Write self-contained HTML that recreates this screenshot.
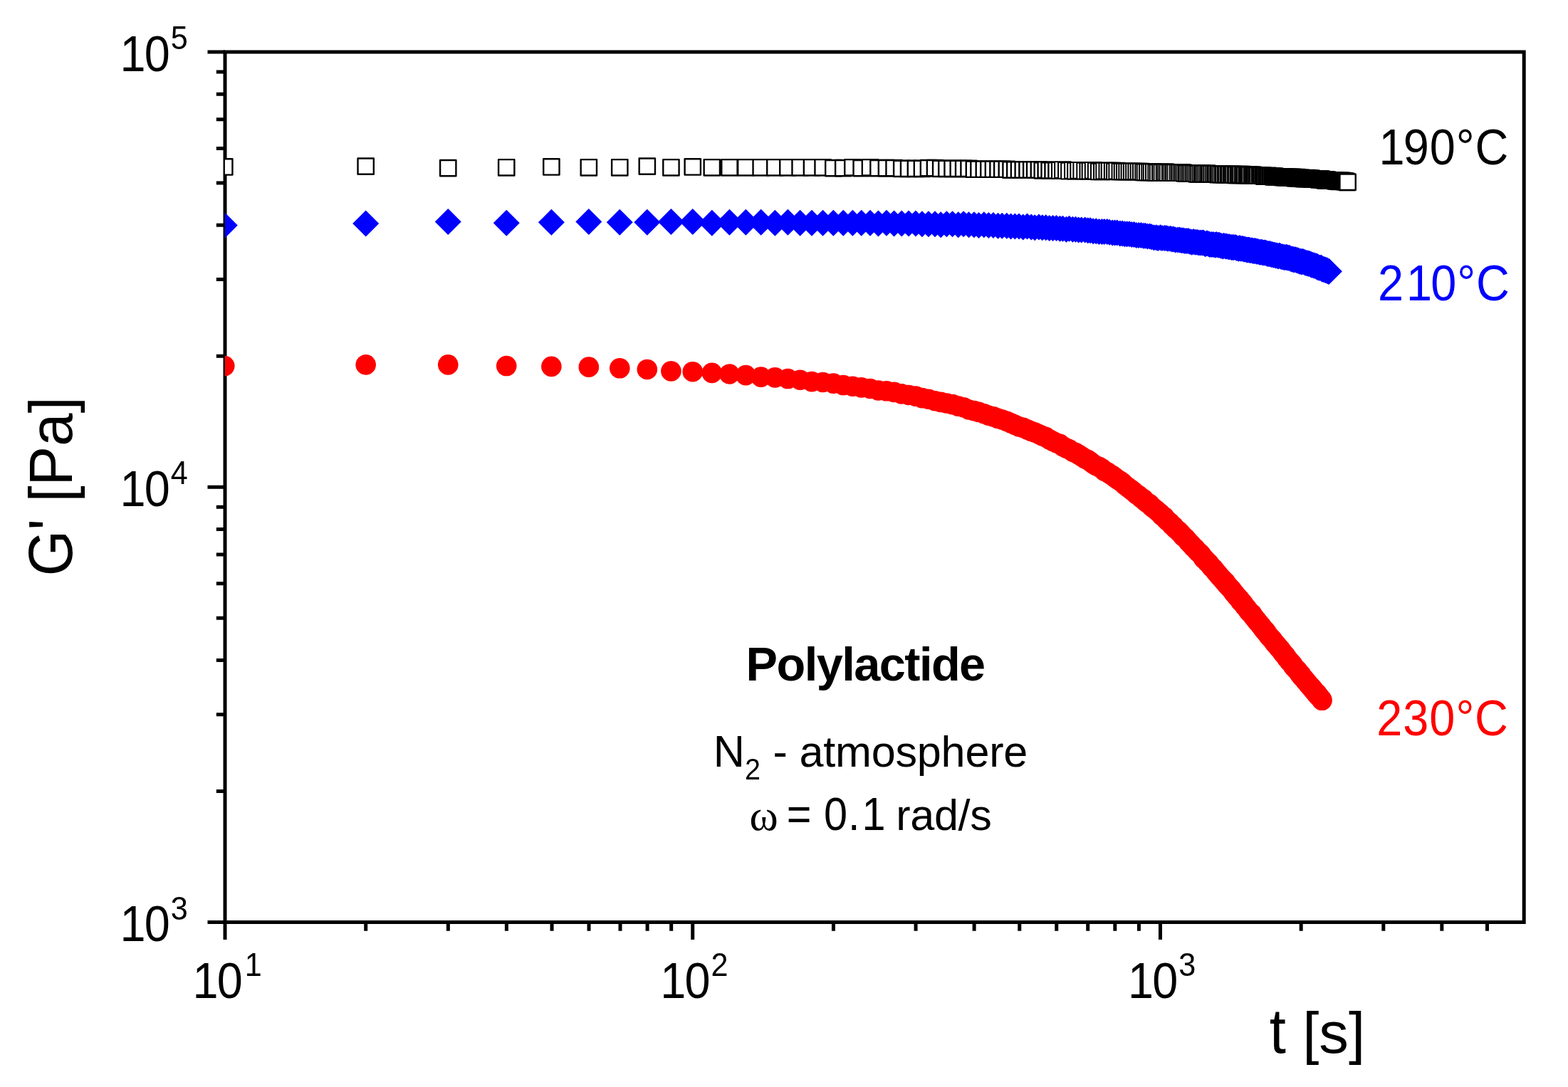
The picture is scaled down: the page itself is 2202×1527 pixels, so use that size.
<!DOCTYPE html>
<html lang="en"><head><meta charset="utf-8"><title>Polylactide G' vs t</title>
<style>html,body{margin:0;padding:0;background:#fff}body{width:2202px;height:1527px;overflow:hidden}svg{display:block}text{font-family:"Liberation Sans",Arial,Helvetica,sans-serif;fill:#000;white-space:pre}.sym{font-family:"Liberation Serif","DejaVu Serif",serif}</style></head><body>
<svg width="2202" height="1527" viewBox="0 0 2202 1527">
<rect x="0" y="0" width="2202" height="1527" fill="#fff"/>
<defs><clipPath id="plot"><rect x="315.90" y="73.00" width="1824.20" height="1222.50"/></clipPath></defs>
<g stroke="#000" stroke-width="5.00" fill="none" stroke-linecap="butt">
<rect x="316.00" y="73.00" width="1824.20" height="1222.50"/>
<path d="M291.50 1295.50H316.00M303.80 1111.50H316.00M303.80 1003.86H316.00M303.80 927.49H316.00M303.80 868.25H316.00M303.80 819.86H316.00M303.80 778.93H316.00M303.80 743.49H316.00M303.80 712.22H316.00M291.50 684.25H316.00M303.80 500.25H316.00M303.80 392.61H316.00M303.80 316.24H316.00M303.80 257.00H316.00M303.80 208.61H316.00M303.80 167.68H316.00M303.80 132.24H316.00M303.80 100.97H316.00M291.50 73.00H316.00M316.00 1295.50V1320.00M513.70 1295.50V1307.70M629.34 1295.50V1307.70M711.39 1295.50V1307.70M775.03 1295.50V1307.70M827.04 1295.50V1307.70M871.00 1295.50V1307.70M909.09 1295.50V1307.70M942.68 1295.50V1307.70M972.73 1295.50V1320.00M1170.43 1295.50V1307.70M1286.07 1295.50V1307.70M1368.12 1295.50V1307.70M1431.76 1295.50V1307.70M1483.77 1295.50V1307.70M1527.73 1295.50V1307.70M1565.82 1295.50V1307.70M1599.41 1295.50V1307.70M1629.46 1295.50V1320.00M1827.16 1295.50V1307.70M1942.80 1295.50V1307.70M2024.85 1295.50V1307.70M2088.49 1295.50V1307.70"/>
</g>
<g clip-path="url(#plot)">
<g fill="#fff" stroke="#000" stroke-linejoin="round">
<rect x="304.13" y="223.31" width="22.30" height="22.30" stroke-width="2.40"/>
<rect x="502.52" y="222.49" width="22.30" height="22.30" stroke-width="2.40"/>
<rect x="618.11" y="224.95" width="22.30" height="22.30" stroke-width="2.40"/>
<rect x="700.09" y="224.13" width="22.30" height="22.30" stroke-width="2.40"/>
<rect x="763.22" y="223.31" width="22.30" height="22.30" stroke-width="2.40"/>
<rect x="815.68" y="224.13" width="22.30" height="22.30" stroke-width="2.40"/>
<rect x="859.13" y="224.13" width="22.30" height="22.30" stroke-width="2.40"/>
<rect x="897.67" y="222.49" width="22.30" height="22.30" stroke-width="2.40"/>
<rect x="931.28" y="224.13" width="22.30" height="22.30" stroke-width="2.40"/>
<rect x="961.61" y="223.31" width="22.30" height="22.30" stroke-width="2.40"/>
<rect x="988.66" y="224.13" width="22.30" height="22.30" stroke-width="2.40"/>
<rect x="1013.26" y="224.13" width="22.30" height="22.30" stroke-width="2.40"/>
<rect x="1036.21" y="224.13" width="22.30" height="22.30" stroke-width="2.40"/>
<rect x="1057.53" y="224.13" width="22.30" height="22.30" stroke-width="2.40"/>
<rect x="1077.20" y="224.13" width="22.30" height="22.30" stroke-width="2.40"/>
<rect x="1095.24" y="224.13" width="22.30" height="22.30" stroke-width="2.40"/>
<rect x="1112.45" y="224.13" width="22.30" height="22.30" stroke-width="2.40"/>
<rect x="1128.85" y="224.13" width="22.30" height="22.30" stroke-width="2.40"/>
<rect x="1144.43" y="224.13" width="22.30" height="22.30" stroke-width="2.40"/>
<rect x="1159.18" y="224.95" width="22.30" height="22.30" stroke-width="2.40"/>
<rect x="1173.12" y="224.95" width="22.30" height="22.30" stroke-width="2.40"/>
<rect x="1186.24" y="224.13" width="22.30" height="22.30" stroke-width="2.40"/>
<rect x="1198.53" y="224.95" width="22.30" height="22.30" stroke-width="2.40"/>
<rect x="1210.83" y="224.13" width="22.30" height="22.30" stroke-width="2.40"/>
<rect x="1222.31" y="224.95" width="22.30" height="22.30" stroke-width="2.40"/>
<rect x="1233.79" y="224.95" width="22.30" height="22.30" stroke-width="2.40"/>
<rect x="1244.44" y="224.95" width="22.30" height="22.30" stroke-width="2.40"/>
<rect x="1255.10" y="225.77" width="22.30" height="22.30" stroke-width="2.40"/>
<rect x="1264.94" y="225.77" width="22.30" height="22.30" stroke-width="2.40"/>
<rect x="1274.78" y="225.77" width="22.30" height="22.30" stroke-width="2.40"/>
<rect x="1283.79" y="225.77" width="22.30" height="22.30" stroke-width="2.40"/>
<rect x="1292.81" y="224.95" width="22.30" height="22.30" stroke-width="2.40"/>
<rect x="1301.83" y="224.95" width="22.30" height="22.30" stroke-width="2.40"/>
<rect x="1310.03" y="225.77" width="22.30" height="22.30" stroke-width="2.40"/>
<rect x="1318.23" y="225.77" width="22.30" height="22.30" stroke-width="2.40"/>
<rect x="1326.42" y="225.77" width="22.30" height="22.30" stroke-width="2.40"/>
<rect x="1334.62" y="225.77" width="22.30" height="22.30" stroke-width="2.40"/>
<rect x="1342.00" y="225.77" width="22.30" height="22.30" stroke-width="2.40"/>
<rect x="1349.38" y="225.77" width="22.30" height="22.30" stroke-width="2.40"/>
<rect x="1356.76" y="226.59" width="22.30" height="22.30" stroke-width="2.40"/>
<rect x="1363.32" y="226.59" width="22.30" height="22.30" stroke-width="2.40"/>
<rect x="1370.69" y="226.59" width="22.30" height="22.30" stroke-width="2.40"/>
<rect x="1377.25" y="226.59" width="22.30" height="22.30" stroke-width="2.40"/>
<rect x="1383.81" y="226.59" width="22.30" height="22.30" stroke-width="2.40"/>
<rect x="1390.37" y="226.59" width="22.30" height="22.30" stroke-width="2.40"/>
<rect x="1396.11" y="226.59" width="22.30" height="22.30" stroke-width="2.40"/>
<rect x="1402.67" y="226.59" width="22.30" height="22.30" stroke-width="2.40"/>
<rect x="1408.40" y="227.41" width="22.30" height="22.30" stroke-width="2.40"/>
<rect x="1414.14" y="227.41" width="22.30" height="22.30" stroke-width="2.40"/>
<rect x="1419.88" y="227.41" width="22.30" height="22.30" stroke-width="2.40"/>
<rect x="1425.62" y="227.41" width="22.30" height="22.30" stroke-width="2.40"/>
<rect x="1431.36" y="227.41" width="22.30" height="22.30" stroke-width="2.40"/>
<rect x="1437.10" y="227.41" width="22.30" height="22.30" stroke-width="2.40"/>
<rect x="1442.02" y="227.41" width="22.30" height="22.30" stroke-width="2.40"/>
<rect x="1447.76" y="227.41" width="22.30" height="22.30" stroke-width="2.40"/>
<rect x="1452.67" y="228.23" width="22.30" height="22.30" stroke-width="2.40"/>
<rect x="1457.59" y="227.41" width="22.30" height="22.30" stroke-width="2.40"/>
<rect x="1462.51" y="228.23" width="22.30" height="22.30" stroke-width="2.40"/>
<rect x="1467.43" y="228.23" width="22.30" height="22.30" stroke-width="2.40"/>
<rect x="1472.35" y="228.23" width="22.30" height="22.30" stroke-width="2.40"/>
<rect x="1477.07" y="228.03" width="22.70" height="22.70" stroke-width="2.00"/>
<rect x="1481.17" y="227.21" width="22.70" height="22.70" stroke-width="2.00"/>
<rect x="1486.09" y="228.03" width="22.70" height="22.70" stroke-width="2.00"/>
<rect x="1490.19" y="228.85" width="22.70" height="22.70" stroke-width="2.00"/>
<rect x="1495.10" y="228.03" width="22.70" height="22.70" stroke-width="2.00"/>
<rect x="1499.20" y="228.85" width="22.70" height="22.70" stroke-width="2.00"/>
<rect x="1503.30" y="228.03" width="22.70" height="22.70" stroke-width="2.00"/>
<rect x="1507.40" y="228.03" width="22.70" height="22.70" stroke-width="2.00"/>
<rect x="1512.32" y="228.85" width="22.70" height="22.70" stroke-width="2.00"/>
<rect x="1516.42" y="228.85" width="22.70" height="22.70" stroke-width="2.00"/>
<rect x="1519.70" y="228.85" width="22.70" height="22.70" stroke-width="2.00"/>
<rect x="1523.80" y="228.03" width="22.70" height="22.70" stroke-width="2.00"/>
<rect x="1527.90" y="228.85" width="22.70" height="22.70" stroke-width="2.00"/>
<rect x="1532.00" y="229.67" width="22.70" height="22.70" stroke-width="2.00"/>
<rect x="1536.09" y="229.67" width="22.70" height="22.70" stroke-width="2.00"/>
<rect x="1539.37" y="228.85" width="22.70" height="22.70" stroke-width="2.00"/>
<rect x="1543.47" y="228.85" width="22.70" height="22.70" stroke-width="2.00"/>
<rect x="1546.75" y="228.85" width="22.70" height="22.70" stroke-width="2.00"/>
<rect x="1550.85" y="228.85" width="22.70" height="22.70" stroke-width="2.00"/>
<rect x="1554.13" y="229.67" width="22.70" height="22.70" stroke-width="2.00"/>
<rect x="1557.41" y="228.85" width="22.70" height="22.70" stroke-width="2.00"/>
<rect x="1561.51" y="229.67" width="22.70" height="22.70" stroke-width="2.00"/>
<rect x="1564.79" y="229.67" width="22.70" height="22.70" stroke-width="2.00"/>
<rect x="1568.07" y="229.67" width="22.70" height="22.70" stroke-width="2.00"/>
<rect x="1571.35" y="229.67" width="22.70" height="22.70" stroke-width="2.00"/>
<rect x="1574.63" y="229.67" width="22.70" height="22.70" stroke-width="2.00"/>
<rect x="1577.90" y="229.67" width="22.70" height="22.70" stroke-width="2.00"/>
<rect x="1581.18" y="229.67" width="22.70" height="22.70" stroke-width="2.00"/>
<rect x="1584.46" y="229.67" width="22.70" height="22.70" stroke-width="2.00"/>
<rect x="1587.74" y="229.67" width="22.70" height="22.70" stroke-width="2.00"/>
<rect x="1591.02" y="229.67" width="22.70" height="22.70" stroke-width="2.00"/>
<rect x="1594.30" y="230.49" width="22.70" height="22.70" stroke-width="2.00"/>
<rect x="1596.76" y="230.49" width="22.70" height="22.70" stroke-width="2.00"/>
<rect x="1600.04" y="230.49" width="22.70" height="22.70" stroke-width="2.00"/>
<rect x="1603.32" y="230.49" width="22.70" height="22.70" stroke-width="2.00"/>
<rect x="1605.78" y="230.49" width="22.70" height="22.70" stroke-width="2.00"/>
<rect x="1609.06" y="230.49" width="22.70" height="22.70" stroke-width="2.00"/>
<rect x="1612.34" y="231.31" width="22.70" height="22.70" stroke-width="2.00"/>
<rect x="1614.80" y="231.31" width="22.70" height="22.70" stroke-width="2.00"/>
<rect x="1618.08" y="230.49" width="22.70" height="22.70" stroke-width="2.00"/>
<rect x="1620.53" y="231.31" width="22.70" height="22.70" stroke-width="2.00"/>
<rect x="1623.81" y="230.49" width="22.70" height="22.70" stroke-width="2.00"/>
<rect x="1626.27" y="230.49" width="22.70" height="22.70" stroke-width="2.00"/>
<rect x="1628.73" y="231.31" width="22.70" height="22.70" stroke-width="2.00"/>
<rect x="1632.01" y="231.31" width="22.70" height="22.70" stroke-width="2.00"/>
<rect x="1634.47" y="231.31" width="22.70" height="22.70" stroke-width="2.00"/>
<rect x="1636.93" y="231.31" width="22.70" height="22.70" stroke-width="2.00"/>
<rect x="1639.39" y="231.31" width="22.70" height="22.70" stroke-width="2.00"/>
<rect x="1642.67" y="231.31" width="22.70" height="22.70" stroke-width="2.00"/>
<rect x="1645.13" y="231.31" width="22.70" height="22.70" stroke-width="2.00"/>
<rect x="1647.59" y="231.31" width="22.70" height="22.70" stroke-width="2.00"/>
<rect x="1650.05" y="231.31" width="22.70" height="22.70" stroke-width="2.00"/>
<rect x="1652.51" y="232.13" width="22.70" height="22.70" stroke-width="2.00"/>
<rect x="1654.97" y="232.13" width="22.70" height="22.70" stroke-width="2.00"/>
<rect x="1657.43" y="232.13" width="22.70" height="22.70" stroke-width="2.00"/>
<rect x="1659.89" y="232.13" width="22.70" height="22.70" stroke-width="2.00"/>
<rect x="1662.34" y="232.13" width="22.70" height="22.70" stroke-width="2.00"/>
<rect x="1664.80" y="232.13" width="22.70" height="22.70" stroke-width="2.00"/>
<rect x="1667.26" y="232.13" width="22.70" height="22.70" stroke-width="2.00"/>
<rect x="1669.72" y="232.95" width="22.70" height="22.70" stroke-width="2.00"/>
<rect x="1672.18" y="232.95" width="22.70" height="22.70" stroke-width="2.00"/>
<rect x="1674.64" y="232.13" width="22.70" height="22.70" stroke-width="2.00"/>
<rect x="1677.10" y="232.13" width="22.70" height="22.70" stroke-width="2.00"/>
<rect x="1678.74" y="232.95" width="22.70" height="22.70" stroke-width="2.00"/>
<rect x="1681.20" y="232.95" width="22.70" height="22.70" stroke-width="2.00"/>
<rect x="1683.66" y="232.13" width="22.70" height="22.70" stroke-width="2.00"/>
<rect x="1686.12" y="232.95" width="22.70" height="22.70" stroke-width="2.00"/>
<rect x="1687.76" y="232.95" width="22.70" height="22.70" stroke-width="2.00"/>
<rect x="1690.22" y="232.95" width="22.70" height="22.70" stroke-width="2.00"/>
<rect x="1692.68" y="232.95" width="22.70" height="22.70" stroke-width="2.00"/>
<rect x="1695.14" y="232.95" width="22.70" height="22.70" stroke-width="2.00"/>
<rect x="1696.78" y="232.95" width="22.70" height="22.70" stroke-width="2.00"/>
<rect x="1699.24" y="233.77" width="22.70" height="22.70" stroke-width="2.00"/>
<rect x="1700.88" y="232.95" width="22.70" height="22.70" stroke-width="2.00"/>
<rect x="1703.33" y="233.77" width="22.70" height="22.70" stroke-width="2.00"/>
<rect x="1705.79" y="232.95" width="22.70" height="22.70" stroke-width="2.00"/>
<rect x="1707.43" y="233.77" width="22.70" height="22.70" stroke-width="2.00"/>
<rect x="1709.89" y="233.77" width="22.70" height="22.70" stroke-width="2.00"/>
<rect x="1711.53" y="233.77" width="22.70" height="22.70" stroke-width="2.00"/>
<rect x="1713.99" y="233.77" width="22.70" height="22.70" stroke-width="2.00"/>
<rect x="1715.63" y="233.77" width="22.70" height="22.70" stroke-width="2.00"/>
<rect x="1718.09" y="233.77" width="22.70" height="22.70" stroke-width="2.00"/>
<rect x="1719.73" y="233.77" width="22.70" height="22.70" stroke-width="2.00"/>
<rect x="1721.37" y="233.77" width="22.70" height="22.70" stroke-width="2.00"/>
<rect x="1723.83" y="234.59" width="22.70" height="22.70" stroke-width="2.00"/>
<rect x="1725.47" y="234.59" width="22.70" height="22.70" stroke-width="2.00"/>
<rect x="1727.93" y="233.77" width="22.70" height="22.70" stroke-width="2.00"/>
<rect x="1729.57" y="234.59" width="22.70" height="22.70" stroke-width="2.00"/>
<rect x="1731.21" y="233.77" width="22.70" height="22.70" stroke-width="2.00"/>
<rect x="1733.67" y="233.77" width="22.70" height="22.70" stroke-width="2.00"/>
<rect x="1735.31" y="234.59" width="22.70" height="22.70" stroke-width="2.00"/>
<rect x="1736.95" y="234.59" width="22.70" height="22.70" stroke-width="2.00"/>
<rect x="1739.41" y="234.59" width="22.70" height="22.70" stroke-width="2.00"/>
<rect x="1741.05" y="234.59" width="22.70" height="22.70" stroke-width="2.00"/>
<rect x="1742.69" y="234.59" width="22.70" height="22.70" stroke-width="2.00"/>
<rect x="1744.33" y="234.59" width="22.70" height="22.70" stroke-width="2.00"/>
<rect x="1746.78" y="234.59" width="22.70" height="22.70" stroke-width="2.00"/>
<rect x="1748.42" y="234.59" width="22.70" height="22.70" stroke-width="2.00"/>
<rect x="1750.06" y="235.41" width="22.70" height="22.70" stroke-width="2.00"/>
<rect x="1751.70" y="235.41" width="22.70" height="22.70" stroke-width="2.00"/>
<rect x="1753.34" y="235.41" width="22.70" height="22.70" stroke-width="2.00"/>
<rect x="1754.98" y="235.41" width="22.70" height="22.70" stroke-width="2.00"/>
<rect x="1757.44" y="235.41" width="22.70" height="22.70" stroke-width="2.00"/>
<rect x="1759.08" y="235.41" width="22.70" height="22.70" stroke-width="2.00"/>
<rect x="1760.72" y="235.41" width="22.70" height="22.70" stroke-width="2.00"/>
<rect x="1762.36" y="235.41" width="22.70" height="22.70" stroke-width="2.00"/>
<rect x="1764.00" y="236.23" width="22.70" height="22.70" stroke-width="2.00"/>
<rect x="1765.64" y="236.23" width="22.70" height="22.70" stroke-width="2.00"/>
<rect x="1767.28" y="236.23" width="22.70" height="22.70" stroke-width="2.00"/>
<rect x="1768.92" y="235.41" width="22.70" height="22.70" stroke-width="2.00"/>
<rect x="1770.56" y="236.23" width="22.70" height="22.70" stroke-width="2.00"/>
<rect x="1772.20" y="236.23" width="22.70" height="22.70" stroke-width="2.00"/>
<rect x="1773.84" y="236.23" width="22.70" height="22.70" stroke-width="2.00"/>
<rect x="1775.78" y="236.53" width="22.10" height="22.10" stroke-width="2.60"/>
<rect x="1777.42" y="237.35" width="22.10" height="22.10" stroke-width="2.60"/>
<rect x="1779.06" y="236.53" width="22.10" height="22.10" stroke-width="2.60"/>
<rect x="1780.70" y="237.35" width="22.10" height="22.10" stroke-width="2.60"/>
<rect x="1782.34" y="237.35" width="22.10" height="22.10" stroke-width="2.60"/>
<rect x="1783.98" y="237.35" width="22.10" height="22.10" stroke-width="2.60"/>
<rect x="1785.62" y="237.35" width="22.10" height="22.10" stroke-width="2.60"/>
<rect x="1787.26" y="237.35" width="22.10" height="22.10" stroke-width="2.60"/>
<rect x="1788.89" y="237.35" width="22.10" height="22.10" stroke-width="2.60"/>
<rect x="1790.53" y="238.17" width="22.10" height="22.10" stroke-width="2.60"/>
<rect x="1792.17" y="237.35" width="22.10" height="22.10" stroke-width="2.60"/>
<rect x="1793.81" y="238.17" width="22.10" height="22.10" stroke-width="2.60"/>
<rect x="1795.45" y="238.17" width="22.10" height="22.10" stroke-width="2.60"/>
<rect x="1796.27" y="238.17" width="22.10" height="22.10" stroke-width="2.60"/>
<rect x="1797.91" y="238.17" width="22.10" height="22.10" stroke-width="2.60"/>
<rect x="1799.55" y="238.17" width="22.10" height="22.10" stroke-width="2.60"/>
<rect x="1801.19" y="238.17" width="22.10" height="22.10" stroke-width="2.60"/>
<rect x="1802.83" y="238.17" width="22.10" height="22.10" stroke-width="2.60"/>
<rect x="1804.47" y="238.17" width="22.10" height="22.10" stroke-width="2.60"/>
<rect x="1805.29" y="238.17" width="22.10" height="22.10" stroke-width="2.60"/>
<rect x="1806.93" y="238.99" width="22.10" height="22.10" stroke-width="2.60"/>
<rect x="1808.57" y="238.99" width="22.10" height="22.10" stroke-width="2.60"/>
<rect x="1810.21" y="238.17" width="22.10" height="22.10" stroke-width="2.60"/>
<rect x="1811.85" y="238.99" width="22.10" height="22.10" stroke-width="2.60"/>
<rect x="1812.67" y="238.99" width="22.10" height="22.10" stroke-width="2.60"/>
<rect x="1814.31" y="238.99" width="22.10" height="22.10" stroke-width="2.60"/>
<rect x="1815.95" y="238.99" width="22.10" height="22.10" stroke-width="2.60"/>
<rect x="1816.77" y="238.99" width="22.10" height="22.10" stroke-width="2.60"/>
<rect x="1818.41" y="239.81" width="22.10" height="22.10" stroke-width="2.60"/>
<rect x="1820.05" y="239.81" width="22.10" height="22.10" stroke-width="2.60"/>
<rect x="1821.69" y="239.81" width="22.10" height="22.10" stroke-width="2.60"/>
<rect x="1822.51" y="239.81" width="22.10" height="22.10" stroke-width="2.60"/>
<rect x="1824.15" y="238.99" width="22.10" height="22.10" stroke-width="2.60"/>
<rect x="1825.79" y="239.81" width="22.10" height="22.10" stroke-width="2.60"/>
<rect x="1826.61" y="239.81" width="22.10" height="22.10" stroke-width="2.60"/>
<rect x="1828.25" y="239.81" width="22.10" height="22.10" stroke-width="2.60"/>
<rect x="1829.89" y="239.81" width="22.10" height="22.10" stroke-width="2.60"/>
<rect x="1830.70" y="239.81" width="22.10" height="22.10" stroke-width="2.60"/>
<rect x="1832.34" y="240.63" width="22.10" height="22.10" stroke-width="2.60"/>
<rect x="1833.98" y="240.63" width="22.10" height="22.10" stroke-width="2.60"/>
<rect x="1834.80" y="240.63" width="22.10" height="22.10" stroke-width="2.60"/>
<rect x="1836.44" y="240.63" width="22.10" height="22.10" stroke-width="2.60"/>
<rect x="1838.08" y="240.63" width="22.10" height="22.10" stroke-width="2.60"/>
<rect x="1838.90" y="240.63" width="22.10" height="22.10" stroke-width="2.60"/>
<rect x="1840.54" y="240.63" width="22.10" height="22.10" stroke-width="2.60"/>
<rect x="1841.36" y="241.45" width="22.10" height="22.10" stroke-width="2.60"/>
<rect x="1843.00" y="240.63" width="22.10" height="22.10" stroke-width="2.60"/>
<rect x="1844.64" y="240.63" width="22.10" height="22.10" stroke-width="2.60"/>
<rect x="1845.46" y="241.45" width="22.10" height="22.10" stroke-width="2.60"/>
<rect x="1847.10" y="241.45" width="22.10" height="22.10" stroke-width="2.60"/>
<rect x="1847.92" y="241.45" width="22.10" height="22.10" stroke-width="2.60"/>
<rect x="1849.56" y="242.27" width="22.10" height="22.10" stroke-width="2.60"/>
<rect x="1850.38" y="241.45" width="22.10" height="22.10" stroke-width="2.60"/>
<rect x="1852.02" y="242.27" width="22.10" height="22.10" stroke-width="2.60"/>
<rect x="1852.84" y="241.45" width="22.10" height="22.10" stroke-width="2.60"/>
<rect x="1854.48" y="242.27" width="22.10" height="22.10" stroke-width="2.60"/>
<rect x="1855.30" y="242.27" width="22.10" height="22.10" stroke-width="2.60"/>
<rect x="1856.94" y="242.27" width="22.10" height="22.10" stroke-width="2.60"/>
<rect x="1857.76" y="242.27" width="22.10" height="22.10" stroke-width="2.60"/>
<rect x="1859.40" y="242.27" width="22.10" height="22.10" stroke-width="2.60"/>
<rect x="1860.22" y="242.27" width="22.10" height="22.10" stroke-width="2.60"/>
<rect x="1861.86" y="242.27" width="22.10" height="22.10" stroke-width="2.60"/>
<rect x="1862.68" y="242.27" width="22.10" height="22.10" stroke-width="2.60"/>
<rect x="1864.32" y="243.09" width="22.10" height="22.10" stroke-width="2.60"/>
<rect x="1865.14" y="243.09" width="22.10" height="22.10" stroke-width="2.60"/>
<rect x="1866.78" y="243.09" width="22.10" height="22.10" stroke-width="2.60"/>
<rect x="1867.60" y="243.09" width="22.10" height="22.10" stroke-width="2.60"/>
<rect x="1869.24" y="243.91" width="22.10" height="22.10" stroke-width="2.60"/>
<rect x="1870.06" y="243.09" width="22.10" height="22.10" stroke-width="2.60"/>
<rect x="1871.70" y="243.09" width="22.10" height="22.10" stroke-width="2.60"/>
<rect x="1872.52" y="243.09" width="22.10" height="22.10" stroke-width="2.60"/>
<rect x="1873.33" y="243.09" width="22.10" height="22.10" stroke-width="2.60"/>
<rect x="1874.97" y="243.09" width="22.10" height="22.10" stroke-width="2.60"/>
<rect x="1875.79" y="243.91" width="22.10" height="22.10" stroke-width="2.60"/>
<rect x="1877.43" y="243.91" width="22.10" height="22.10" stroke-width="2.60"/>
<rect x="1878.25" y="243.91" width="22.10" height="22.10" stroke-width="2.60"/>
<rect x="1879.07" y="243.91" width="22.10" height="22.10" stroke-width="2.60"/>
<rect x="1880.71" y="244.73" width="22.10" height="22.10" stroke-width="2.60"/>
<rect x="1881.43" y="244.63" width="22.30" height="22.30" stroke-width="2.40"/>
</g>
<g fill="#00f">
<path d="M296.78 316.45l18.5 -18.5l18.5 18.5l-18.5 18.5z"/>
<path d="M495.17 313.99l18.5 -18.5l18.5 18.5l-18.5 18.5z"/>
<path d="M610.76 311.53l18.5 -18.5l18.5 18.5l-18.5 18.5z"/>
<path d="M692.74 313.17l18.5 -18.5l18.5 18.5l-18.5 18.5z"/>
<path d="M755.87 312.35l18.5 -18.5l18.5 18.5l-18.5 18.5z"/>
<path d="M808.33 311.53l18.5 -18.5l18.5 18.5l-18.5 18.5z"/>
<path d="M851.78 312.35l18.5 -18.5l18.5 18.5l-18.5 18.5z"/>
<path d="M890.32 312.35l18.5 -18.5l18.5 18.5l-18.5 18.5z"/>
<path d="M923.93 311.53l18.5 -18.5l18.5 18.5l-18.5 18.5z"/>
<path d="M954.26 311.53l18.5 -18.5l18.5 18.5l-18.5 18.5z"/>
<path d="M981.31 313.17l18.5 -18.5l18.5 18.5l-18.5 18.5z"/>
<path d="M1005.91 312.35l18.5 -18.5l18.5 18.5l-18.5 18.5z"/>
<path d="M1028.86 312.35l18.5 -18.5l18.5 18.5l-18.5 18.5z"/>
<path d="M1050.18 312.35l18.5 -18.5l18.5 18.5l-18.5 18.5z"/>
<path d="M1069.85 313.17l18.5 -18.5l18.5 18.5l-18.5 18.5z"/>
<path d="M1087.89 312.35l18.5 -18.5l18.5 18.5l-18.5 18.5z"/>
<path d="M1105.10 313.17l18.5 -18.5l18.5 18.5l-18.5 18.5z"/>
<path d="M1121.50 313.17l18.5 -18.5l18.5 18.5l-18.5 18.5z"/>
<path d="M1137.08 313.17l18.5 -18.5l18.5 18.5l-18.5 18.5z"/>
<path d="M1151.83 313.17l18.5 -18.5l18.5 18.5l-18.5 18.5z"/>
<path d="M1165.77 313.17l18.5 -18.5l18.5 18.5l-18.5 18.5z"/>
<path d="M1178.89 313.17l18.5 -18.5l18.5 18.5l-18.5 18.5z"/>
<path d="M1191.18 313.17l18.5 -18.5l18.5 18.5l-18.5 18.5z"/>
<path d="M1203.48 313.17l18.5 -18.5l18.5 18.5l-18.5 18.5z"/>
<path d="M1214.96 313.99l18.5 -18.5l18.5 18.5l-18.5 18.5z"/>
<path d="M1226.44 313.17l18.5 -18.5l18.5 18.5l-18.5 18.5z"/>
<path d="M1237.09 313.99l18.5 -18.5l18.5 18.5l-18.5 18.5z"/>
<path d="M1247.75 313.99l18.5 -18.5l18.5 18.5l-18.5 18.5z"/>
<path d="M1257.59 313.99l18.5 -18.5l18.5 18.5l-18.5 18.5z"/>
<path d="M1267.43 313.99l18.5 -18.5l18.5 18.5l-18.5 18.5z"/>
<path d="M1276.44 314.81l18.5 -18.5l18.5 18.5l-18.5 18.5z"/>
<path d="M1285.46 314.81l18.5 -18.5l18.5 18.5l-18.5 18.5z"/>
<path d="M1294.48 314.81l18.5 -18.5l18.5 18.5l-18.5 18.5z"/>
<path d="M1302.68 315.63l18.5 -18.5l18.5 18.5l-18.5 18.5z"/>
<path d="M1310.88 314.81l18.5 -18.5l18.5 18.5l-18.5 18.5z"/>
<path d="M1319.07 314.81l18.5 -18.5l18.5 18.5l-18.5 18.5z"/>
<path d="M1327.27 315.63l18.5 -18.5l18.5 18.5l-18.5 18.5z"/>
<path d="M1334.65 314.81l18.5 -18.5l18.5 18.5l-18.5 18.5z"/>
<path d="M1342.03 315.63l18.5 -18.5l18.5 18.5l-18.5 18.5z"/>
<path d="M1349.41 315.63l18.5 -18.5l18.5 18.5l-18.5 18.5z"/>
<path d="M1355.97 316.45l18.5 -18.5l18.5 18.5l-18.5 18.5z"/>
<path d="M1363.34 315.63l18.5 -18.5l18.5 18.5l-18.5 18.5z"/>
<path d="M1369.90 316.45l18.5 -18.5l18.5 18.5l-18.5 18.5z"/>
<path d="M1376.46 316.45l18.5 -18.5l18.5 18.5l-18.5 18.5z"/>
<path d="M1383.02 317.27l18.5 -18.5l18.5 18.5l-18.5 18.5z"/>
<path d="M1388.76 317.27l18.5 -18.5l18.5 18.5l-18.5 18.5z"/>
<path d="M1395.32 317.27l18.5 -18.5l18.5 18.5l-18.5 18.5z"/>
<path d="M1401.05 318.08l18.5 -18.5l18.5 18.5l-18.5 18.5z"/>
<path d="M1406.79 318.08l18.5 -18.5l18.5 18.5l-18.5 18.5z"/>
<path d="M1412.53 318.08l18.5 -18.5l18.5 18.5l-18.5 18.5z"/>
<path d="M1418.27 318.90l18.5 -18.5l18.5 18.5l-18.5 18.5z"/>
<path d="M1424.01 318.08l18.5 -18.5l18.5 18.5l-18.5 18.5z"/>
<path d="M1429.75 318.90l18.5 -18.5l18.5 18.5l-18.5 18.5z"/>
<path d="M1434.67 319.72l18.5 -18.5l18.5 18.5l-18.5 18.5z"/>
<path d="M1440.41 318.90l18.5 -18.5l18.5 18.5l-18.5 18.5z"/>
<path d="M1445.32 319.72l18.5 -18.5l18.5 18.5l-18.5 18.5z"/>
<path d="M1450.24 319.72l18.5 -18.5l18.5 18.5l-18.5 18.5z"/>
<path d="M1455.16 320.54l18.5 -18.5l18.5 18.5l-18.5 18.5z"/>
<path d="M1460.08 320.54l18.5 -18.5l18.5 18.5l-18.5 18.5z"/>
<path d="M1465.00 320.54l18.5 -18.5l18.5 18.5l-18.5 18.5z"/>
<path d="M1469.92 321.36l18.5 -18.5l18.5 18.5l-18.5 18.5z"/>
<path d="M1474.02 321.36l18.5 -18.5l18.5 18.5l-18.5 18.5z"/>
<path d="M1478.94 322.18l18.5 -18.5l18.5 18.5l-18.5 18.5z"/>
<path d="M1483.04 321.36l18.5 -18.5l18.5 18.5l-18.5 18.5z"/>
<path d="M1487.95 322.18l18.5 -18.5l18.5 18.5l-18.5 18.5z"/>
<path d="M1492.05 322.18l18.5 -18.5l18.5 18.5l-18.5 18.5z"/>
<path d="M1496.15 323.00l18.5 -18.5l18.5 18.5l-18.5 18.5z"/>
<path d="M1500.25 323.00l18.5 -18.5l18.5 18.5l-18.5 18.5z"/>
<path d="M1505.17 323.00l18.5 -18.5l18.5 18.5l-18.5 18.5z"/>
<path d="M1509.27 323.82l18.5 -18.5l18.5 18.5l-18.5 18.5z"/>
<path d="M1512.55 323.82l18.5 -18.5l18.5 18.5l-18.5 18.5z"/>
<path d="M1516.65 324.64l18.5 -18.5l18.5 18.5l-18.5 18.5z"/>
<path d="M1520.75 324.64l18.5 -18.5l18.5 18.5l-18.5 18.5z"/>
<path d="M1524.85 325.46l18.5 -18.5l18.5 18.5l-18.5 18.5z"/>
<path d="M1528.94 325.46l18.5 -18.5l18.5 18.5l-18.5 18.5z"/>
<path d="M1532.22 325.46l18.5 -18.5l18.5 18.5l-18.5 18.5z"/>
<path d="M1536.32 325.46l18.5 -18.5l18.5 18.5l-18.5 18.5z"/>
<path d="M1539.60 326.28l18.5 -18.5l18.5 18.5l-18.5 18.5z"/>
<path d="M1543.70 327.10l18.5 -18.5l18.5 18.5l-18.5 18.5z"/>
<path d="M1546.98 327.10l18.5 -18.5l18.5 18.5l-18.5 18.5z"/>
<path d="M1550.26 327.10l18.5 -18.5l18.5 18.5l-18.5 18.5z"/>
<path d="M1554.36 327.92l18.5 -18.5l18.5 18.5l-18.5 18.5z"/>
<path d="M1557.64 327.92l18.5 -18.5l18.5 18.5l-18.5 18.5z"/>
<path d="M1560.92 328.74l18.5 -18.5l18.5 18.5l-18.5 18.5z"/>
<path d="M1564.20 328.74l18.5 -18.5l18.5 18.5l-18.5 18.5z"/>
<path d="M1567.48 328.74l18.5 -18.5l18.5 18.5l-18.5 18.5z"/>
<path d="M1570.75 329.56l18.5 -18.5l18.5 18.5l-18.5 18.5z"/>
<path d="M1574.03 329.56l18.5 -18.5l18.5 18.5l-18.5 18.5z"/>
<path d="M1577.31 330.38l18.5 -18.5l18.5 18.5l-18.5 18.5z"/>
<path d="M1580.59 330.38l18.5 -18.5l18.5 18.5l-18.5 18.5z"/>
<path d="M1583.87 330.38l18.5 -18.5l18.5 18.5l-18.5 18.5z"/>
<path d="M1587.15 331.20l18.5 -18.5l18.5 18.5l-18.5 18.5z"/>
<path d="M1589.61 331.20l18.5 -18.5l18.5 18.5l-18.5 18.5z"/>
<path d="M1592.89 332.02l18.5 -18.5l18.5 18.5l-18.5 18.5z"/>
<path d="M1596.17 332.02l18.5 -18.5l18.5 18.5l-18.5 18.5z"/>
<path d="M1598.63 332.84l18.5 -18.5l18.5 18.5l-18.5 18.5z"/>
<path d="M1601.91 333.66l18.5 -18.5l18.5 18.5l-18.5 18.5z"/>
<path d="M1605.19 333.66l18.5 -18.5l18.5 18.5l-18.5 18.5z"/>
<path d="M1607.65 334.48l18.5 -18.5l18.5 18.5l-18.5 18.5z"/>
<path d="M1610.93 333.66l18.5 -18.5l18.5 18.5l-18.5 18.5z"/>
<path d="M1613.38 334.48l18.5 -18.5l18.5 18.5l-18.5 18.5z"/>
<path d="M1616.66 334.48l18.5 -18.5l18.5 18.5l-18.5 18.5z"/>
<path d="M1619.12 334.48l18.5 -18.5l18.5 18.5l-18.5 18.5z"/>
<path d="M1621.58 335.30l18.5 -18.5l18.5 18.5l-18.5 18.5z"/>
<path d="M1624.86 335.30l18.5 -18.5l18.5 18.5l-18.5 18.5z"/>
<path d="M1627.32 336.12l18.5 -18.5l18.5 18.5l-18.5 18.5z"/>
<path d="M1629.78 336.12l18.5 -18.5l18.5 18.5l-18.5 18.5z"/>
<path d="M1632.24 336.94l18.5 -18.5l18.5 18.5l-18.5 18.5z"/>
<path d="M1635.52 336.94l18.5 -18.5l18.5 18.5l-18.5 18.5z"/>
<path d="M1637.98 336.94l18.5 -18.5l18.5 18.5l-18.5 18.5z"/>
<path d="M1640.44 337.76l18.5 -18.5l18.5 18.5l-18.5 18.5z"/>
<path d="M1642.90 337.76l18.5 -18.5l18.5 18.5l-18.5 18.5z"/>
<path d="M1645.36 338.58l18.5 -18.5l18.5 18.5l-18.5 18.5z"/>
<path d="M1647.82 338.58l18.5 -18.5l18.5 18.5l-18.5 18.5z"/>
<path d="M1650.28 338.58l18.5 -18.5l18.5 18.5l-18.5 18.5z"/>
<path d="M1652.74 339.40l18.5 -18.5l18.5 18.5l-18.5 18.5z"/>
<path d="M1655.19 340.22l18.5 -18.5l18.5 18.5l-18.5 18.5z"/>
<path d="M1657.65 339.40l18.5 -18.5l18.5 18.5l-18.5 18.5z"/>
<path d="M1660.11 340.22l18.5 -18.5l18.5 18.5l-18.5 18.5z"/>
<path d="M1662.57 340.22l18.5 -18.5l18.5 18.5l-18.5 18.5z"/>
<path d="M1665.03 341.04l18.5 -18.5l18.5 18.5l-18.5 18.5z"/>
<path d="M1667.49 341.04l18.5 -18.5l18.5 18.5l-18.5 18.5z"/>
<path d="M1669.95 341.04l18.5 -18.5l18.5 18.5l-18.5 18.5z"/>
<path d="M1671.59 341.04l18.5 -18.5l18.5 18.5l-18.5 18.5z"/>
<path d="M1674.05 342.68l18.5 -18.5l18.5 18.5l-18.5 18.5z"/>
<path d="M1676.51 341.86l18.5 -18.5l18.5 18.5l-18.5 18.5z"/>
<path d="M1678.97 342.68l18.5 -18.5l18.5 18.5l-18.5 18.5z"/>
<path d="M1680.61 343.50l18.5 -18.5l18.5 18.5l-18.5 18.5z"/>
<path d="M1683.07 343.50l18.5 -18.5l18.5 18.5l-18.5 18.5z"/>
<path d="M1685.53 343.50l18.5 -18.5l18.5 18.5l-18.5 18.5z"/>
<path d="M1687.99 344.32l18.5 -18.5l18.5 18.5l-18.5 18.5z"/>
<path d="M1689.63 343.50l18.5 -18.5l18.5 18.5l-18.5 18.5z"/>
<path d="M1692.09 344.32l18.5 -18.5l18.5 18.5l-18.5 18.5z"/>
<path d="M1693.73 344.32l18.5 -18.5l18.5 18.5l-18.5 18.5z"/>
<path d="M1696.18 345.14l18.5 -18.5l18.5 18.5l-18.5 18.5z"/>
<path d="M1698.64 345.96l18.5 -18.5l18.5 18.5l-18.5 18.5z"/>
<path d="M1700.28 345.14l18.5 -18.5l18.5 18.5l-18.5 18.5z"/>
<path d="M1702.74 345.96l18.5 -18.5l18.5 18.5l-18.5 18.5z"/>
<path d="M1704.38 345.96l18.5 -18.5l18.5 18.5l-18.5 18.5z"/>
<path d="M1706.84 346.78l18.5 -18.5l18.5 18.5l-18.5 18.5z"/>
<path d="M1708.48 346.78l18.5 -18.5l18.5 18.5l-18.5 18.5z"/>
<path d="M1710.94 347.60l18.5 -18.5l18.5 18.5l-18.5 18.5z"/>
<path d="M1712.58 347.60l18.5 -18.5l18.5 18.5l-18.5 18.5z"/>
<path d="M1714.22 347.60l18.5 -18.5l18.5 18.5l-18.5 18.5z"/>
<path d="M1716.68 347.60l18.5 -18.5l18.5 18.5l-18.5 18.5z"/>
<path d="M1718.32 348.42l18.5 -18.5l18.5 18.5l-18.5 18.5z"/>
<path d="M1720.78 349.24l18.5 -18.5l18.5 18.5l-18.5 18.5z"/>
<path d="M1722.42 348.42l18.5 -18.5l18.5 18.5l-18.5 18.5z"/>
<path d="M1724.06 349.24l18.5 -18.5l18.5 18.5l-18.5 18.5z"/>
<path d="M1726.52 349.24l18.5 -18.5l18.5 18.5l-18.5 18.5z"/>
<path d="M1728.16 350.06l18.5 -18.5l18.5 18.5l-18.5 18.5z"/>
<path d="M1729.80 350.06l18.5 -18.5l18.5 18.5l-18.5 18.5z"/>
<path d="M1732.26 350.88l18.5 -18.5l18.5 18.5l-18.5 18.5z"/>
<path d="M1733.90 350.88l18.5 -18.5l18.5 18.5l-18.5 18.5z"/>
<path d="M1735.54 350.88l18.5 -18.5l18.5 18.5l-18.5 18.5z"/>
<path d="M1737.18 351.70l18.5 -18.5l18.5 18.5l-18.5 18.5z"/>
<path d="M1739.63 351.70l18.5 -18.5l18.5 18.5l-18.5 18.5z"/>
<path d="M1741.27 352.52l18.5 -18.5l18.5 18.5l-18.5 18.5z"/>
<path d="M1742.91 352.52l18.5 -18.5l18.5 18.5l-18.5 18.5z"/>
<path d="M1744.55 352.52l18.5 -18.5l18.5 18.5l-18.5 18.5z"/>
<path d="M1746.19 353.34l18.5 -18.5l18.5 18.5l-18.5 18.5z"/>
<path d="M1747.83 353.34l18.5 -18.5l18.5 18.5l-18.5 18.5z"/>
<path d="M1750.29 354.16l18.5 -18.5l18.5 18.5l-18.5 18.5z"/>
<path d="M1751.93 354.16l18.5 -18.5l18.5 18.5l-18.5 18.5z"/>
<path d="M1753.57 354.16l18.5 -18.5l18.5 18.5l-18.5 18.5z"/>
<path d="M1755.21 354.98l18.5 -18.5l18.5 18.5l-18.5 18.5z"/>
<path d="M1756.85 354.98l18.5 -18.5l18.5 18.5l-18.5 18.5z"/>
<path d="M1758.49 354.98l18.5 -18.5l18.5 18.5l-18.5 18.5z"/>
<path d="M1760.13 355.80l18.5 -18.5l18.5 18.5l-18.5 18.5z"/>
<path d="M1761.77 356.62l18.5 -18.5l18.5 18.5l-18.5 18.5z"/>
<path d="M1763.41 356.62l18.5 -18.5l18.5 18.5l-18.5 18.5z"/>
<path d="M1765.05 356.62l18.5 -18.5l18.5 18.5l-18.5 18.5z"/>
<path d="M1766.69 357.44l18.5 -18.5l18.5 18.5l-18.5 18.5z"/>
<path d="M1768.33 357.44l18.5 -18.5l18.5 18.5l-18.5 18.5z"/>
<path d="M1769.97 358.26l18.5 -18.5l18.5 18.5l-18.5 18.5z"/>
<path d="M1771.61 358.26l18.5 -18.5l18.5 18.5l-18.5 18.5z"/>
<path d="M1773.25 359.08l18.5 -18.5l18.5 18.5l-18.5 18.5z"/>
<path d="M1774.89 359.08l18.5 -18.5l18.5 18.5l-18.5 18.5z"/>
<path d="M1776.53 359.90l18.5 -18.5l18.5 18.5l-18.5 18.5z"/>
<path d="M1778.17 359.08l18.5 -18.5l18.5 18.5l-18.5 18.5z"/>
<path d="M1779.81 359.90l18.5 -18.5l18.5 18.5l-18.5 18.5z"/>
<path d="M1781.44 360.71l18.5 -18.5l18.5 18.5l-18.5 18.5z"/>
<path d="M1783.08 360.71l18.5 -18.5l18.5 18.5l-18.5 18.5z"/>
<path d="M1784.72 361.53l18.5 -18.5l18.5 18.5l-18.5 18.5z"/>
<path d="M1786.36 361.53l18.5 -18.5l18.5 18.5l-18.5 18.5z"/>
<path d="M1788.00 361.53l18.5 -18.5l18.5 18.5l-18.5 18.5z"/>
<path d="M1788.82 361.53l18.5 -18.5l18.5 18.5l-18.5 18.5z"/>
<path d="M1790.46 362.35l18.5 -18.5l18.5 18.5l-18.5 18.5z"/>
<path d="M1792.10 362.35l18.5 -18.5l18.5 18.5l-18.5 18.5z"/>
<path d="M1793.74 363.17l18.5 -18.5l18.5 18.5l-18.5 18.5z"/>
<path d="M1795.38 363.99l18.5 -18.5l18.5 18.5l-18.5 18.5z"/>
<path d="M1797.02 363.99l18.5 -18.5l18.5 18.5l-18.5 18.5z"/>
<path d="M1797.84 364.81l18.5 -18.5l18.5 18.5l-18.5 18.5z"/>
<path d="M1799.48 364.81l18.5 -18.5l18.5 18.5l-18.5 18.5z"/>
<path d="M1801.12 364.81l18.5 -18.5l18.5 18.5l-18.5 18.5z"/>
<path d="M1802.76 365.63l18.5 -18.5l18.5 18.5l-18.5 18.5z"/>
<path d="M1804.40 365.63l18.5 -18.5l18.5 18.5l-18.5 18.5z"/>
<path d="M1805.22 366.45l18.5 -18.5l18.5 18.5l-18.5 18.5z"/>
<path d="M1806.86 367.27l18.5 -18.5l18.5 18.5l-18.5 18.5z"/>
<path d="M1808.50 367.27l18.5 -18.5l18.5 18.5l-18.5 18.5z"/>
<path d="M1809.32 368.09l18.5 -18.5l18.5 18.5l-18.5 18.5z"/>
<path d="M1810.96 367.27l18.5 -18.5l18.5 18.5l-18.5 18.5z"/>
<path d="M1812.60 368.09l18.5 -18.5l18.5 18.5l-18.5 18.5z"/>
<path d="M1814.24 368.91l18.5 -18.5l18.5 18.5l-18.5 18.5z"/>
<path d="M1815.06 368.91l18.5 -18.5l18.5 18.5l-18.5 18.5z"/>
<path d="M1816.70 369.73l18.5 -18.5l18.5 18.5l-18.5 18.5z"/>
<path d="M1818.34 369.73l18.5 -18.5l18.5 18.5l-18.5 18.5z"/>
<path d="M1819.16 370.55l18.5 -18.5l18.5 18.5l-18.5 18.5z"/>
<path d="M1820.80 370.55l18.5 -18.5l18.5 18.5l-18.5 18.5z"/>
<path d="M1822.44 371.37l18.5 -18.5l18.5 18.5l-18.5 18.5z"/>
<path d="M1823.25 372.19l18.5 -18.5l18.5 18.5l-18.5 18.5z"/>
<path d="M1824.89 372.19l18.5 -18.5l18.5 18.5l-18.5 18.5z"/>
<path d="M1826.53 373.01l18.5 -18.5l18.5 18.5l-18.5 18.5z"/>
<path d="M1827.35 373.01l18.5 -18.5l18.5 18.5l-18.5 18.5z"/>
<path d="M1828.99 373.83l18.5 -18.5l18.5 18.5l-18.5 18.5z"/>
<path d="M1830.63 373.83l18.5 -18.5l18.5 18.5l-18.5 18.5z"/>
<path d="M1831.45 375.47l18.5 -18.5l18.5 18.5l-18.5 18.5z"/>
<path d="M1833.09 375.47l18.5 -18.5l18.5 18.5l-18.5 18.5z"/>
<path d="M1833.91 376.29l18.5 -18.5l18.5 18.5l-18.5 18.5z"/>
<path d="M1835.55 376.29l18.5 -18.5l18.5 18.5l-18.5 18.5z"/>
<path d="M1837.19 376.29l18.5 -18.5l18.5 18.5l-18.5 18.5z"/>
<path d="M1838.01 377.93l18.5 -18.5l18.5 18.5l-18.5 18.5z"/>
<path d="M1839.65 377.93l18.5 -18.5l18.5 18.5l-18.5 18.5z"/>
<path d="M1840.47 378.75l18.5 -18.5l18.5 18.5l-18.5 18.5z"/>
<path d="M1842.11 378.75l18.5 -18.5l18.5 18.5l-18.5 18.5z"/>
<path d="M1842.93 379.57l18.5 -18.5l18.5 18.5l-18.5 18.5z"/>
<path d="M1844.57 379.57l18.5 -18.5l18.5 18.5l-18.5 18.5z"/>
<path d="M1845.39 380.39l18.5 -18.5l18.5 18.5l-18.5 18.5z"/>
<path d="M1847.03 381.21l18.5 -18.5l18.5 18.5l-18.5 18.5z"/>
<path d="M1847.85 381.21l18.5 -18.5l18.5 18.5l-18.5 18.5z"/>
</g>
<g fill="#f00">
<circle cx="315.28" cy="514.02" r="14.3"/>
<circle cx="513.67" cy="512.38" r="14.3"/>
<circle cx="629.26" cy="512.38" r="14.3"/>
<circle cx="711.24" cy="514.02" r="14.3"/>
<circle cx="774.37" cy="514.84" r="14.3"/>
<circle cx="826.83" cy="515.66" r="14.3"/>
<circle cx="870.28" cy="517.30" r="14.3"/>
<circle cx="908.82" cy="518.94" r="14.3"/>
<circle cx="942.43" cy="521.40" r="14.3"/>
<circle cx="972.76" cy="522.22" r="14.3"/>
<circle cx="999.81" cy="523.86" r="14.3"/>
<circle cx="1024.41" cy="525.50" r="14.3"/>
<circle cx="1047.36" cy="527.14" r="14.3"/>
<circle cx="1068.68" cy="529.59" r="14.3"/>
<circle cx="1088.35" cy="530.41" r="14.3"/>
<circle cx="1106.39" cy="532.05" r="14.3"/>
<circle cx="1123.60" cy="533.69" r="14.3"/>
<circle cx="1140.00" cy="536.15" r="14.3"/>
<circle cx="1155.58" cy="536.97" r="14.3"/>
<circle cx="1170.33" cy="538.61" r="14.3"/>
<circle cx="1184.27" cy="541.07" r="14.3"/>
<circle cx="1197.39" cy="542.71" r="14.3"/>
<circle cx="1209.68" cy="544.35" r="14.3"/>
<circle cx="1221.98" cy="545.99" r="14.3"/>
<circle cx="1233.46" cy="548.45" r="14.3"/>
<circle cx="1244.94" cy="549.27" r="14.3"/>
<circle cx="1255.59" cy="550.91" r="14.3"/>
<circle cx="1266.25" cy="553.37" r="14.3"/>
<circle cx="1276.09" cy="555.01" r="14.3"/>
<circle cx="1285.93" cy="556.65" r="14.3"/>
<circle cx="1294.94" cy="559.11" r="14.3"/>
<circle cx="1303.96" cy="560.75" r="14.3"/>
<circle cx="1312.98" cy="563.21" r="14.3"/>
<circle cx="1321.18" cy="564.85" r="14.3"/>
<circle cx="1329.38" cy="566.49" r="14.3"/>
<circle cx="1337.57" cy="568.13" r="14.3"/>
<circle cx="1345.77" cy="570.59" r="14.3"/>
<circle cx="1353.15" cy="572.22" r="14.3"/>
<circle cx="1360.53" cy="575.50" r="14.3"/>
<circle cx="1367.91" cy="577.14" r="14.3"/>
<circle cx="1374.47" cy="578.78" r="14.3"/>
<circle cx="1381.84" cy="581.24" r="14.3"/>
<circle cx="1388.40" cy="583.70" r="14.3"/>
<circle cx="1394.96" cy="585.34" r="14.3"/>
<circle cx="1401.52" cy="587.80" r="14.3"/>
<circle cx="1407.26" cy="589.44" r="14.3"/>
<circle cx="1413.82" cy="591.90" r="14.3"/>
<circle cx="1419.55" cy="594.36" r="14.3"/>
<circle cx="1425.29" cy="596.82" r="14.3"/>
<circle cx="1431.03" cy="599.28" r="14.3"/>
<circle cx="1436.77" cy="600.92" r="14.3"/>
<circle cx="1442.51" cy="603.38" r="14.3"/>
<circle cx="1448.25" cy="605.84" r="14.3"/>
<circle cx="1453.17" cy="607.48" r="14.3"/>
<circle cx="1458.91" cy="609.94" r="14.3"/>
<circle cx="1463.82" cy="612.40" r="14.3"/>
<circle cx="1468.74" cy="614.03" r="14.3"/>
<circle cx="1473.66" cy="617.31" r="14.3"/>
<circle cx="1478.58" cy="619.77" r="14.3"/>
<circle cx="1483.50" cy="622.23" r="14.3"/>
<circle cx="1488.42" cy="623.87" r="14.3"/>
<circle cx="1492.52" cy="627.15" r="14.3"/>
<circle cx="1497.44" cy="629.61" r="14.3"/>
<circle cx="1501.54" cy="631.25" r="14.3"/>
<circle cx="1506.45" cy="634.53" r="14.3"/>
<circle cx="1510.55" cy="636.17" r="14.3"/>
<circle cx="1514.65" cy="638.63" r="14.3"/>
<circle cx="1518.75" cy="641.09" r="14.3"/>
<circle cx="1523.67" cy="644.37" r="14.3"/>
<circle cx="1527.77" cy="646.01" r="14.3"/>
<circle cx="1531.05" cy="648.47" r="14.3"/>
<circle cx="1535.15" cy="651.75" r="14.3"/>
<circle cx="1539.25" cy="654.21" r="14.3"/>
<circle cx="1543.35" cy="655.85" r="14.3"/>
<circle cx="1547.44" cy="658.30" r="14.3"/>
<circle cx="1550.72" cy="661.58" r="14.3"/>
<circle cx="1554.82" cy="663.22" r="14.3"/>
<circle cx="1558.10" cy="665.68" r="14.3"/>
<circle cx="1562.20" cy="668.14" r="14.3"/>
<circle cx="1565.48" cy="670.60" r="14.3"/>
<circle cx="1568.76" cy="673.06" r="14.3"/>
<circle cx="1572.86" cy="675.52" r="14.3"/>
<circle cx="1576.14" cy="677.98" r="14.3"/>
<circle cx="1579.42" cy="681.26" r="14.3"/>
<circle cx="1582.70" cy="683.72" r="14.3"/>
<circle cx="1585.98" cy="686.18" r="14.3"/>
<circle cx="1589.25" cy="688.64" r="14.3"/>
<circle cx="1592.53" cy="691.10" r="14.3"/>
<circle cx="1595.81" cy="694.38" r="14.3"/>
<circle cx="1599.09" cy="696.02" r="14.3"/>
<circle cx="1602.37" cy="699.29" r="14.3"/>
<circle cx="1605.65" cy="700.93" r="14.3"/>
<circle cx="1608.11" cy="704.21" r="14.3"/>
<circle cx="1611.39" cy="706.67" r="14.3"/>
<circle cx="1614.67" cy="708.31" r="14.3"/>
<circle cx="1617.13" cy="711.59" r="14.3"/>
<circle cx="1620.41" cy="714.05" r="14.3"/>
<circle cx="1623.69" cy="716.51" r="14.3"/>
<circle cx="1626.15" cy="718.97" r="14.3"/>
<circle cx="1629.43" cy="721.43" r="14.3"/>
<circle cx="1631.88" cy="724.71" r="14.3"/>
<circle cx="1635.16" cy="726.35" r="14.3"/>
<circle cx="1637.62" cy="729.63" r="14.3"/>
<circle cx="1640.08" cy="732.09" r="14.3"/>
<circle cx="1643.36" cy="734.55" r="14.3"/>
<circle cx="1645.82" cy="737.83" r="14.3"/>
<circle cx="1648.28" cy="739.47" r="14.3"/>
<circle cx="1650.74" cy="742.74" r="14.3"/>
<circle cx="1654.02" cy="745.20" r="14.3"/>
<circle cx="1656.48" cy="747.66" r="14.3"/>
<circle cx="1658.94" cy="750.12" r="14.3"/>
<circle cx="1661.40" cy="753.40" r="14.3"/>
<circle cx="1663.86" cy="755.04" r="14.3"/>
<circle cx="1666.32" cy="757.50" r="14.3"/>
<circle cx="1668.78" cy="760.78" r="14.3"/>
<circle cx="1671.24" cy="763.24" r="14.3"/>
<circle cx="1673.69" cy="765.70" r="14.3"/>
<circle cx="1676.15" cy="768.98" r="14.3"/>
<circle cx="1678.61" cy="770.62" r="14.3"/>
<circle cx="1681.07" cy="773.90" r="14.3"/>
<circle cx="1683.53" cy="776.36" r="14.3"/>
<circle cx="1685.99" cy="778.00" r="14.3"/>
<circle cx="1688.45" cy="781.28" r="14.3"/>
<circle cx="1690.09" cy="784.55" r="14.3"/>
<circle cx="1692.55" cy="786.19" r="14.3"/>
<circle cx="1695.01" cy="789.47" r="14.3"/>
<circle cx="1697.47" cy="791.11" r="14.3"/>
<circle cx="1699.11" cy="793.57" r="14.3"/>
<circle cx="1701.57" cy="796.85" r="14.3"/>
<circle cx="1704.03" cy="798.49" r="14.3"/>
<circle cx="1706.49" cy="801.77" r="14.3"/>
<circle cx="1708.13" cy="804.23" r="14.3"/>
<circle cx="1710.59" cy="806.69" r="14.3"/>
<circle cx="1712.23" cy="809.15" r="14.3"/>
<circle cx="1714.68" cy="811.61" r="14.3"/>
<circle cx="1717.14" cy="814.07" r="14.3"/>
<circle cx="1718.78" cy="816.53" r="14.3"/>
<circle cx="1721.24" cy="818.17" r="14.3"/>
<circle cx="1722.88" cy="821.45" r="14.3"/>
<circle cx="1725.34" cy="823.91" r="14.3"/>
<circle cx="1726.98" cy="825.55" r="14.3"/>
<circle cx="1729.44" cy="828.00" r="14.3"/>
<circle cx="1731.08" cy="830.46" r="14.3"/>
<circle cx="1732.72" cy="832.92" r="14.3"/>
<circle cx="1735.18" cy="835.38" r="14.3"/>
<circle cx="1736.82" cy="837.84" r="14.3"/>
<circle cx="1739.28" cy="840.30" r="14.3"/>
<circle cx="1740.92" cy="841.94" r="14.3"/>
<circle cx="1742.56" cy="845.22" r="14.3"/>
<circle cx="1745.02" cy="846.86" r="14.3"/>
<circle cx="1746.66" cy="849.32" r="14.3"/>
<circle cx="1748.30" cy="851.78" r="14.3"/>
<circle cx="1750.76" cy="854.24" r="14.3"/>
<circle cx="1752.40" cy="856.70" r="14.3"/>
<circle cx="1754.04" cy="859.16" r="14.3"/>
<circle cx="1755.68" cy="860.80" r="14.3"/>
<circle cx="1758.13" cy="862.44" r="14.3"/>
<circle cx="1759.77" cy="865.72" r="14.3"/>
<circle cx="1761.41" cy="867.36" r="14.3"/>
<circle cx="1763.05" cy="869.81" r="14.3"/>
<circle cx="1764.69" cy="871.45" r="14.3"/>
<circle cx="1766.33" cy="873.91" r="14.3"/>
<circle cx="1768.79" cy="876.37" r="14.3"/>
<circle cx="1770.43" cy="878.83" r="14.3"/>
<circle cx="1772.07" cy="880.47" r="14.3"/>
<circle cx="1773.71" cy="882.93" r="14.3"/>
<circle cx="1775.35" cy="885.39" r="14.3"/>
<circle cx="1776.99" cy="886.21" r="14.3"/>
<circle cx="1778.63" cy="888.67" r="14.3"/>
<circle cx="1780.27" cy="891.13" r="14.3"/>
<circle cx="1781.91" cy="893.59" r="14.3"/>
<circle cx="1783.55" cy="895.23" r="14.3"/>
<circle cx="1785.19" cy="896.87" r="14.3"/>
<circle cx="1786.83" cy="898.51" r="14.3"/>
<circle cx="1788.47" cy="900.97" r="14.3"/>
<circle cx="1790.11" cy="903.43" r="14.3"/>
<circle cx="1791.75" cy="905.07" r="14.3"/>
<circle cx="1793.39" cy="906.71" r="14.3"/>
<circle cx="1795.03" cy="909.17" r="14.3"/>
<circle cx="1796.67" cy="910.80" r="14.3"/>
<circle cx="1798.31" cy="912.44" r="14.3"/>
<circle cx="1799.94" cy="914.90" r="14.3"/>
<circle cx="1801.58" cy="917.36" r="14.3"/>
<circle cx="1803.22" cy="919.00" r="14.3"/>
<circle cx="1804.86" cy="920.64" r="14.3"/>
<circle cx="1806.50" cy="923.10" r="14.3"/>
<circle cx="1807.32" cy="924.74" r="14.3"/>
<circle cx="1808.96" cy="926.38" r="14.3"/>
<circle cx="1810.60" cy="928.84" r="14.3"/>
<circle cx="1812.24" cy="930.48" r="14.3"/>
<circle cx="1813.88" cy="932.12" r="14.3"/>
<circle cx="1815.52" cy="933.76" r="14.3"/>
<circle cx="1816.34" cy="936.22" r="14.3"/>
<circle cx="1817.98" cy="937.86" r="14.3"/>
<circle cx="1819.62" cy="939.50" r="14.3"/>
<circle cx="1821.26" cy="941.14" r="14.3"/>
<circle cx="1822.90" cy="942.78" r="14.3"/>
<circle cx="1823.72" cy="944.42" r="14.3"/>
<circle cx="1825.36" cy="946.88" r="14.3"/>
<circle cx="1827.00" cy="947.70" r="14.3"/>
<circle cx="1827.82" cy="950.16" r="14.3"/>
<circle cx="1829.46" cy="951.80" r="14.3"/>
<circle cx="1831.10" cy="953.43" r="14.3"/>
<circle cx="1832.74" cy="955.07" r="14.3"/>
<circle cx="1833.56" cy="956.71" r="14.3"/>
<circle cx="1835.20" cy="958.35" r="14.3"/>
<circle cx="1836.84" cy="959.99" r="14.3"/>
<circle cx="1837.66" cy="961.63" r="14.3"/>
<circle cx="1839.30" cy="963.27" r="14.3"/>
<circle cx="1840.94" cy="964.91" r="14.3"/>
<circle cx="1841.75" cy="966.55" r="14.3"/>
<circle cx="1843.39" cy="967.37" r="14.3"/>
<circle cx="1845.03" cy="969.83" r="14.3"/>
<circle cx="1845.85" cy="971.47" r="14.3"/>
<circle cx="1847.49" cy="973.11" r="14.3"/>
<circle cx="1849.13" cy="973.93" r="14.3"/>
<circle cx="1849.95" cy="976.39" r="14.3"/>
<circle cx="1851.59" cy="977.21" r="14.3"/>
<circle cx="1852.41" cy="978.85" r="14.3"/>
<circle cx="1854.05" cy="980.49" r="14.3"/>
<circle cx="1855.69" cy="982.13" r="14.3"/>
<circle cx="1856.51" cy="983.77" r="14.3"/>
</g>
</g>
<text transform="translate(165.60 1322.20) scale(0.9720 1.0480)" x="2.98 38.15" font-size="66.67">10</text>
<text transform="translate(239.75 1291.60) scale(0.9720 1.0480)" x="0.00" font-size="44.44">3</text>
<text transform="translate(165.60 710.95) scale(0.9720 1.0480)" x="2.98 38.15" font-size="66.67">10</text>
<text transform="translate(239.75 680.35) scale(0.9720 1.0480)" x="0.00" font-size="44.44">4</text>
<text transform="translate(165.60 99.70) scale(0.9720 1.0480)" x="2.98 38.15" font-size="66.67">10</text>
<text transform="translate(239.75 69.10) scale(0.9720 1.0480)" x="0.00" font-size="44.44">5</text>
<text transform="translate(267.70 1402.00) scale(0.9720 1.0480)" x="2.98 38.15" font-size="66.67">10</text>
<text transform="translate(341.85 1371.40) scale(0.9720 1.0480)" x="1.99" font-size="44.44">1</text>
<text transform="translate(924.43 1402.00) scale(0.9720 1.0480)" x="2.98 38.15" font-size="66.67">10</text>
<text transform="translate(998.58 1371.40) scale(0.9720 1.0480)" x="0.00" font-size="44.44">2</text>
<text transform="translate(1581.16 1402.00) scale(0.9720 1.0480)" x="2.98 38.15" font-size="66.67">10</text>
<text transform="translate(1655.31 1371.40) scale(0.9720 1.0480)" x="0.00" font-size="44.44">3</text>
<text transform="translate(1782.80 1479.00) scale(1.0000 1.0700)" x="0.00" font-size="83.33">t</text>
<text transform="translate(1829.13 1479.00) scale(1.0000 0.9850)" x="0.00 23.15 64.82" font-size="83.33">[s]</text>
<text transform="translate(100.85 809.50) rotate(-90) scale(1.0000 1.0400)" x="0.00 64.82" font-size="83.33">G'</text>
<text transform="translate(100.85 705.59) rotate(-90) scale(1.0000 1.0120)" x="0.00 23.15 78.73 125.08" font-size="83.33">[Pa]</text>
<text transform="translate(1933.60 231.05) scale(0.9720 1.0480)" x="2.98 38.15 76.29 114.44 141.87" font-size="66.67">190°C</text>
<text transform="translate(1935.00 421.90) scale(0.9720 1.0480)" x="0.00 41.13 76.29 114.44 141.87" font-size="66.67" style="fill:#00f">210°C</text>
<text transform="translate(1933.20 1033.00) scale(0.9720 1.0480)" x="0.00 38.15 76.29 114.44 141.87" font-size="66.67" style="fill:#f00">230°C</text>
<text transform="translate(1047.50 955.90)" x="0.00 42.94 82.13 99.13 134.67 151.67 187.22 222.77 243.44 260.43 299.62" font-size="66.67" font-weight="bold">Polylactide</text>
<text transform="translate(1001.75 1077.45) scale(1.0000 1.0400)" x="0.00" font-size="61.11">N</text>
<text transform="translate(1045.90 1094.70) scale(0.9720 1.0480)" x="0.00" font-size="40.74">2</text>
<text transform="translate(1085.50 1077.45) scale(1.0000 0.9850)" x="0.00 20.15 36.93 70.71 87.49 138.20 171.98 202.34 236.13 269.91 303.70 323.85" font-size="61.11">- atmosphere</text>
<text transform="translate(1052.50 1166.20)" x="0.00" font-size="61.11" class="sym">ω</text>
<text transform="translate(1104.65 1165.80) scale(0.9720 1.0480)" x="0.00 36.61 53.98 88.84 108.94" font-size="61.11">= 0.1</text>
<text transform="translate(1258.20 1165.80) scale(1.0000 0.9850)" x="0.00 20.05 53.74 87.42 104.10" font-size="61.11">rad/s</text>
</svg></body></html>
